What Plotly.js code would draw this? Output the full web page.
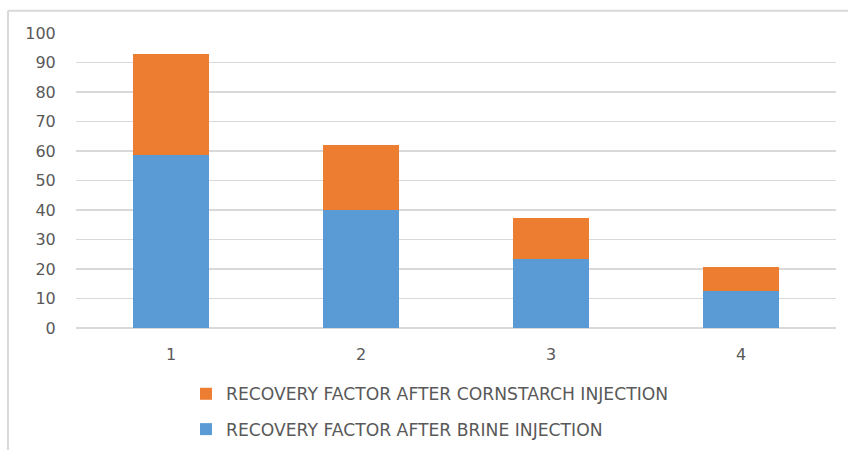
<!DOCTYPE html>
<html>
<head>
<meta charset="utf-8">
<script src="https://cdn.plot.ly/plotly-3.0.1.min.js"></script>
<style>html,body{margin:0;padding:0;background:#fff;}#chart{width:848px;height:450px;}</style>
</head>
<body>
<div id="chart"></div>
<script>
const categories = ['1', '2', '3', '4'];
const brineRF = [58.7, 40, 23.3, 12.6];
const cornstarchRF = [34.2, 22, 13.9, 8.1];
const yTickVals = [0, 10, 20, 30, 40, 50, 60, 70, 80, 90, 100];

const tickFont = {family: 'DejaVu Sans, sans-serif', size: 16, color: '#595959'};
const legendFont = {family: 'DejaVu Sans, sans-serif', size: 17.2, color: '#595959'};

const traces = [
  {type: 'bar', name: 'RECOVERY FACTOR AFTER BRINE INJECTION', x: categories, y: brineRF,
   marker: {color: '#5B9BD5'}, legendgroup: 'a', legendrank: 2, hoverinfo: 'y'},
  {type: 'bar', name: 'RECOVERY FACTOR AFTER CORNSTARCH INJECTION', x: categories, y: cornstarchRF,
   marker: {color: '#ED7D31'}, legendgroup: 'b', legendrank: 1, hoverinfo: 'y'}
];

const layout = {
  width: 848, height: 450,
  margin: {l: 76, r: 12, t: 33, b: 122, autoexpand: false},
  barmode: 'stack',
  bargap: 0.605,
  paper_bgcolor: '#fff', plot_bgcolor: '#fff',
  font: tickFont,
  xaxis: {type: 'category', showgrid: false, showline: false, zeroline: false,
          ticks: 'outside', ticklen: 12, tickcolor: 'rgba(0,0,0,0)', tickfont: tickFont},
  yaxis: {range: [0, 100], tickvals: yTickVals, showgrid: true, gridcolor: '#D9D9D9', gridwidth: 1.5,
          zeroline: true, zerolinecolor: '#D9D9D9', zerolinewidth: 1.5, showline: false,
          ticks: 'outside', ticklen: 16, tickcolor: 'rgba(0,0,0,0)', tickfont: tickFont},
  showlegend: true,
  legend: {orientation: 'v', x: 0.1447, xanchor: 'left', y: -0.163, yanchor: 'top',
           traceorder: 'grouped', tracegroupgap: 10, font: legendFont, bgcolor: 'rgba(0,0,0,0)'},
  shapes: [
    {type: 'line', xref: 'paper', yref: 'paper', x0: -0.0895, x1: 1.02, y0: 1.0756, y1: 1.0756,
     line: {color: '#D9D9D9', width: 2}},
    {type: 'line', xref: 'paper', yref: 'paper', x0: -0.0895, x1: -0.0895, y0: 1.0756, y1: -0.42,
     line: {color: '#D9D9D9', width: 2}}
  ]
};

Plotly.newPlot('chart', traces, layout, {displayModeBar: false, staticPlot: true});
</script>
</body>
</html>
